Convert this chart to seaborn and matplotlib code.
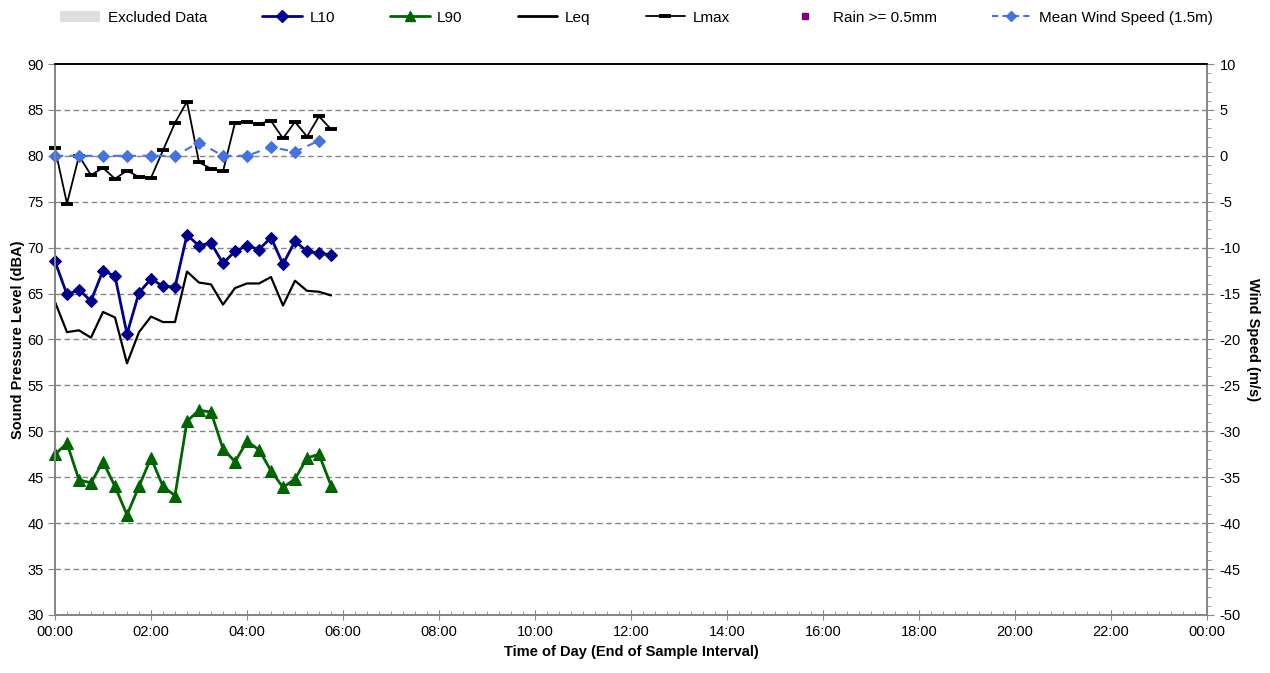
import pandas as pd
import numpy as np
import seaborn as sns
import matplotlib.pyplot as plt
from matplotlib.lines import Line2D
from matplotlib.patches import Patch
from matplotlib.ticker import MultipleLocator, FuncFormatter

# 15 minute intervals (end of sample)
times = ["00:00", "00:15", "00:30", "00:45", "01:00", "01:15", "01:30", "01:45",
         "02:00", "02:15", "02:30", "02:45", "03:00", "03:15", "03:30", "03:45",
         "04:00", "04:15", "04:30", "04:45", "05:00", "05:15", "05:30", "05:45"]
l10 = [68.5, 64.9, 65.4, 64.2, 67.5, 66.9, 60.6, 65.1, 66.6, 65.8, 65.7, 71.4,
       70.2, 70.5, 68.3, 69.6, 70.2, 69.8, 71.1, 68.2, 70.7, 69.6, 69.4, 69.2]
l90 = [47.5, 48.7, 44.7, 44.4, 46.7, 44.0, 40.9, 44.0, 47.1, 44.0, 43.0, 51.1,
       52.3, 52.1, 48.1, 46.7, 48.9, 48.0, 45.7, 43.9, 44.8, 47.1, 47.5, 44.1]
leq = [64.1, 60.8, 61.0, 60.2, 63.0, 62.4, 57.4, 60.8, 62.5, 61.9, 61.9, 67.4,
       66.2, 66.0, 63.8, 65.6, 66.1, 66.1, 66.8, 63.7, 66.4, 65.3, 65.2, 64.8]
lmax = [80.8, 74.8, 80.0, 77.9, 78.7, 77.5, 78.4, 77.7, 77.6, 80.6, 83.6, 85.9,
        79.3, 78.6, 78.3, 83.6, 83.7, 83.5, 83.8, 81.9, 83.7, 82.1, 84.3, 82.9]

# wind every 30 minutes
wind_times = ["00:00", "00:30", "01:00", "01:30", "02:00", "02:30",
              "03:00", "03:30", "04:00", "04:30", "05:00", "05:30"]
wind = [0.0, 0.0, 0.0, 0.0, 0.0, 0.0, 1.45, 0.0, 0.0, 0.95, 0.45, 1.65]

df = pd.DataFrame({"time": times, "L10": l10, "L90": l90, "Leq": leq, "Lmax": lmax})
df["hours"] = pd.to_timedelta(df["time"] + ":00").dt.total_seconds() / 3600
dfw = pd.DataFrame({"time": wind_times, "wind": wind})
dfw["hours"] = pd.to_timedelta(dfw["time"] + ":00").dt.total_seconds() / 3600

sns.set_style("white")
plt.rcParams['font.family'] = ['Liberation Sans', 'DejaVu Sans']
plt.rcParams['axes.unicode_minus'] = False
plt.rcParams['text.color'] = 'black'
plt.rcParams['axes.labelcolor'] = 'black'
plt.rcParams['xtick.labelcolor'] = 'black'
plt.rcParams['ytick.labelcolor'] = 'black'

navy = "#00008B"
green = "#006400"
wblue = "#4472E0"
grey = "#868686"

fig = plt.figure(figsize=(12.7, 6.73), dpi=100)
ax = fig.add_axes([0.0433, 0.0862, 0.9071, 0.8187])
ax2 = ax.twinx()

sns.lineplot(data=df, x="hours", y="Lmax", ax=ax, color="black", linewidth=1.3,
             marker="_", markersize=9, markeredgewidth=2.8, markeredgecolor="black",
             clip_on=False, legend=False)
sns.lineplot(data=df, x="hours", y="Leq", ax=ax, color="black", linewidth=1.6,
             clip_on=False, legend=False)
sns.lineplot(data=df, x="hours", y="L10", ax=ax, color=navy, linewidth=2,
             marker="D", markersize=6, markeredgecolor=navy, clip_on=False, legend=False)
sns.lineplot(data=df, x="hours", y="L90", ax=ax, color=green, linewidth=2,
             marker="^", markersize=8, markeredgecolor=green, clip_on=False, legend=False)
sns.lineplot(data=dfw, x="hours", y="wind", ax=ax2, color=wblue, linewidth=1.5,
             linestyle=(0, (4, 3)), marker="D", markersize=6, markeredgecolor=wblue,
             clip_on=False, legend=False)

ax.set_xlim(0, 24)
ax.set_ylim(30, 90)
ax2.set_ylim(-50, 10)

ax.yaxis.set_major_locator(MultipleLocator(5))
ax2.yaxis.set_major_locator(MultipleLocator(5))
ax2.yaxis.set_minor_locator(MultipleLocator(1))
ax.xaxis.set_major_locator(MultipleLocator(2))
ax.xaxis.set_minor_locator(MultipleLocator(0.25))
ax.xaxis.set_major_formatter(FuncFormatter(lambda v, p: "%02d:00" % (int(round(v)) % 24)))

for yv in range(35, 90, 5):
    ax.axhline(yv, color=grey, linestyle=(0, (4, 2.5)), linewidth=1, zorder=0)

for a in (ax, ax2):
    for s in ("left", "right", "bottom"):
        a.spines[s].set_color(grey)
        a.spines[s].set_linewidth(1.3)
    a.spines["top"].set_color("black")
    a.spines["top"].set_linewidth(1.2)

ax.tick_params(axis="y", which="major", direction="out", length=5, color=grey,
               labelsize=10.5, left=True, pad=3)
ax.tick_params(axis="x", which="major", direction="inout", length=7, color=grey,
               labelsize=10.5, bottom=True, pad=4)
ax.tick_params(axis="x", which="minor", direction="in", length=3, color=grey, bottom=True)
ax2.tick_params(axis="y", which="major", direction="out", length=5, color=grey,
                labelsize=10.5, right=True, pad=4)
ax2.tick_params(axis="y", which="minor", direction="out", length=3, color=grey, right=True)

ax.set_xlabel("Time of Day (End of Sample Interval)", fontsize=10.5, fontweight="bold", labelpad=4)
ax.set_ylabel("Sound Pressure Level (dBA)", fontsize=10.5, fontweight="bold", labelpad=2)
ax2.set_ylabel("Wind Speed (m/s)", fontsize=10.5, fontweight="bold", rotation=270, labelpad=14)

handles = [
    Patch(facecolor="#DEDEDE", edgecolor="none"),
    Line2D([], [], color=navy, lw=2, marker="D", markersize=6),
    Line2D([], [], color=green, lw=2, marker="^", markersize=7),
    Line2D([], [], color="black", lw=2),
    Line2D([], [], color="black", lw=1.3, marker="_", markersize=8, markeredgewidth=2.8),
    Line2D([], [], color="purple", lw=0, marker="s", markersize=5),
    Line2D([], [], color=wblue, lw=1.5, linestyle=(0, (3, 2)), marker="D", markersize=5),
]
labels = ["Excluded Data", "L10", "L90", "Leq", "Lmax", "Rain >= 0.5mm", "Mean Wind Speed (1.5m)"]
fig.legend(handles, labels, loc="upper left", bbox_to_anchor=(0.039, 1.0), ncol=7,
           frameon=False, fontsize=11, handlelength=2.6, handletextpad=0.5,
           columnspacing=3.6, borderaxespad=0.3)

plt.savefig("out.png", dpi=100)
